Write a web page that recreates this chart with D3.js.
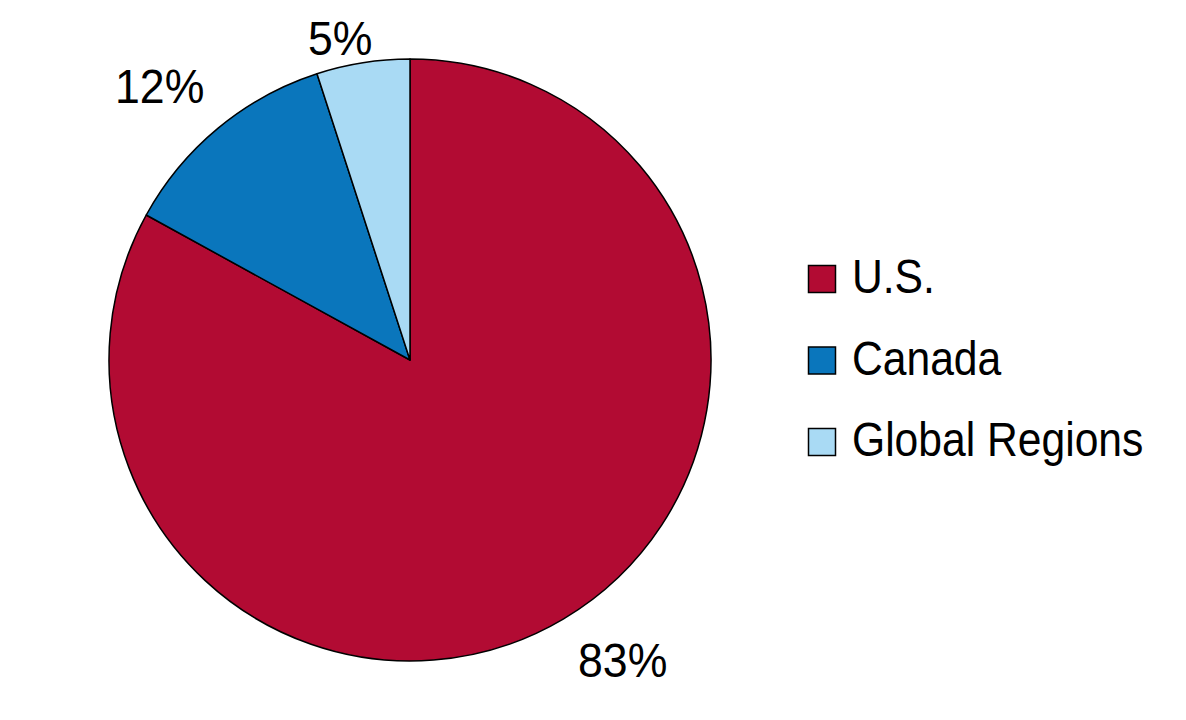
<!DOCTYPE html>
<html><head><meta charset="utf-8">
<script src="https://cdn.jsdelivr.net/npm/d3@7"></script>
<style>body{margin:0;background:#fff}svg{display:block}text{font-family:"Liberation Sans",Arial,sans-serif;fill:#000}</style>
</head><body>
<script>
const categories = ["U.S.", "Canada", "Global Regions"];
const values = [83, 12, 5];
const labels = ["83%", "12%", "5%"];
const colors = ["#B20B33", "#0A76BC", "#A9DAF4"];

const W = 1186, H = 720;
const svg = d3.select("body").append("svg").attr("width", W).attr("height", H);
const cx = 410, cy = 360, r = 301;

const pie = d3.pie().sort(null).value(d => d.v);
const data = categories.map((c, i) => ({c, v: values[i], col: colors[i], lab: labels[i]}));
const arcs = pie(data);
const arc = d3.arc().innerRadius(0).outerRadius(r);

const g = svg.append("g").attr("transform", `translate(${cx},${cy})`);
g.selectAll("path").data(arcs).join("path")
  .attr("d", arc).attr("fill", d => d.data.col)
  .attr("stroke", "#000").attr("stroke-width", 1.5).attr("stroke-linejoin", "round");

// labels placed outside the slices (left x, baseline y relative to centre)
const labelOffsets = [[168, 317], [-295, -257], [-102, -305]];
arcs.forEach((a, i) => {
  const [x, y] = labelOffsets[i];
  g.append("text")
    .attr("transform", `translate(${x},${y}) scale(0.93,1)`)
    .attr("font-size", 48)
    .text(a.data.lab);
});

// legend
const lg = svg.append("g").attr("transform", "translate(808,265)");
const item = lg.selectAll("g").data(data).join("g")
  .attr("transform", (d, i) => `translate(0,${i * 81.5})`);
item.append("rect").attr("x", 0.5).attr("y", 0.5).attr("width", 27).attr("height", 27)
  .attr("fill", d => d.col).attr("stroke", "#000").attr("stroke-width", 1.5);
item.append("text")
  .attr("transform", "translate(44,28) scale(0.87,1)")
  .attr("font-size", 49)
  .text(d => d.c);
</script>
</body></html>
